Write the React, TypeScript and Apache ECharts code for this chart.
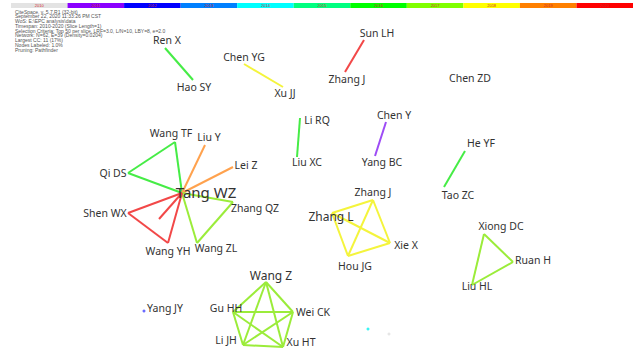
import React, { useEffect, useRef } from "react";
import * as echarts from "echarts";

// ---- timeline ----
const years = ["2010", "2011", "2012", "2013", "2014", "2015", "2016", "2017", "2018", "2019", "2020"];
const yearColors = ["#e3e3e3", "#8a00ff", "#0000ff", "#0080ff", "#00ffff", "#00ff80", "#00ff00", "#80ff00", "#ffff00", "#ff8000", "#ff0000"];

// ---- header text ----
const infoLines = [
  "CiteSpace, v. 5.7.R1 (32-bit)",
  "September 22, 2020 11:33:26 PM CST",
  "WoS: E:\\EPC analysis\\data",
  "Timespan: 2010-2020 (Slice Length=1)",
  "Selection Criteria: Top 50 per slice, LRF=3.0, L/N=10, LBY=8, e=2.0",
  "Network: N=62, E=39 (Density=0.0204)",
  "Largest CC: 11 (17%)",
  "Nodes Labeled: 1.0%",
  "Pruning: Pathfinder",
];

// ---- network nodes (layout coordinates) ----
const nodeNames = [
  "Tang WZ", "Wang TF", "Qi DS", "Liu Y", "Lei Z", "Zhang QZ", "Wang ZL", "Wang YH", "Shen WX", "",
  "Zhang L", "Zhang J", "Xie X", "Hou JG",
  "Wang Z", "Gu HH", "Wei CK", "Li JH", "Xu HT",
  "Yang JY", "",
  "Ren X", "Hao SY", "Chen YG", "Xu JJ", "Sun LH", "Zhang J", "Chen ZD",
  "Li RQ", "Liu XC", "Chen Y", "Yang BC", "He YF", "Tao ZC",
  "Xiong DC", "Ruan H", "Liu HL", "",
];
const nodeX = [182, 175, 128, 205, 233, 233, 197, 168, 128, 159, 332, 373, 390, 348, 266, 233, 293, 243, 283, 144, 368, 165, 193, 244, 283, 364, 345, 470, 300, 297, 386, 375, 465, 444, 484, 513, 472, 389];
const nodeY = [193, 142, 173, 145, 167, 202, 243, 243, 213, 219, 213, 200, 243, 256, 282, 312, 312, 345, 347, 311, 329, 48, 80, 64, 87, 40, 72, 78, 118, 157, 122, 156, 151, 187, 234, 262, 285, 334];

// ---- network links ----
const linkSource = [0, 1, 2, 0, 0, 0, 5, 6, 0, 8, 7, 0, 10, 11, 12, 13, 10, 11, 14, 14, 14, 14, 15, 15, 15, 16, 16, 17, 21, 23, 25, 28, 30, 32, 34, 35, 36];
const linkTarget = [1, 2, 0, 3, 4, 5, 6, 0, 8, 7, 0, 9, 11, 12, 13, 10, 12, 13, 15, 16, 17, 18, 16, 17, 18, 17, 18, 18, 22, 24, 26, 29, 31, 33, 35, 36, 34];
const linkYear = ["2016", "2016", "2016", "2019", "2019", "2017", "2017", "2017", "2020", "2020", "2020", "2020", "2018", "2018", "2018", "2018", "2018", "2018", "2017", "2017", "2017", "2017", "2017", "2017", "2017", "2017", "2017", "2017", "2016", "2018", "2020", "2016", "2011", "2016", "2017", "2017", "2017"];

// ---- styles ----
const edgeColor: Record<string, string> = {
  "2011": "#9d4cf5",
  "2016": "#46ec46",
  "2017": "#9bec3a",
  "2018": "#f4f43c",
  "2019": "#ffa24e",
  "2020": "#f24848",
};
const dotStyle: Record<number, { size: number; color: string }> = {
  19: { size: 3, color: "#6b6bff" },
  20: { size: 3, color: "#3cf4f4" },
  37: { size: 3, color: "#e6e6e6" },
};
const labelOffsets: number[][] = [
  [24, -1], [-4, -9], [-15, 0], [4, -8], [13, -2], [22, 6], [19, 5], [0, 8], [-23, 0], [0, 0],
  [-1, 3], [0, -8], [16, 2], [7, 10],
  [5, -7], [-7, -4], [20, 0], [-17, -5], [18, -5],
  [21, -3], [0, 0],
  [2, -8], [1, 7], [0, -7], [2, 6], [13, -7], [2, 7], [0, 0],
  [17, 2], [10, 5], [8, -7], [7, 6], [16, -8], [14, 8],
  [17, -8], [20, -2], [5, 1], [0, 0],
];
const labelSize: Record<number, number> = { 0: 15, 10: 12, 14: 12 };

export default function App() {
  const ref = useRef<HTMLDivElement>(null);
  useEffect(() => {
    document.body.style.margin = "0";
    if (!ref.current) return;
    const chart = echarts.init(ref.current, null, { renderer: "svg" });

    const nodes = nodeNames.map((name, i) => ({
      id: String(i),
      name,
      value: [nodeX[i], nodeY[i]],
      symbolSize: dotStyle[i] ? dotStyle[i].size : 0,
      itemStyle: { color: dotStyle[i] ? dotStyle[i].color : "#000" },
      label: {
        show: name !== "",
        offset: labelOffsets[i],
        fontSize: labelSize[i] || 10.5,
      },
    }));
    const links = linkSource.map((s, i) => ({
      source: s,
      target: linkTarget[i],
      lineStyle: { color: edgeColor[linkYear[i]] },
    }));

    chart.setOption({
      animation: false,
      backgroundColor: "#ffffff",
      grid: [
        { left: 0, right: 0, top: 0, bottom: 0 },
        { left: 11, top: 3, height: 5, width: 629 },
      ],
      xAxis: [
        { type: "value", min: 0, max: 633, show: false, gridIndex: 0 },
        { type: "category", data: years, show: false, gridIndex: 1 },
      ],
      yAxis: [
        { type: "value", min: 0, max: 350, inverse: true, show: false, gridIndex: 0 },
        { type: "value", min: 0, max: 1, show: false, gridIndex: 1 },
      ],
      graphic: [
        {
          type: "text",
          left: 15,
          top: 9,
          style: {
            text: infoLines.join("\n"),
            fontSize: 5,
            lineHeight: 4.8,
            fill: "#555",
            fontFamily: "Liberation Sans",
          },
        },
      ],
      series: [
        {
          type: "bar",
          xAxisIndex: 1,
          yAxisIndex: 1,
          barCategoryGap: "0%",
          data: years.map((y, i) => ({ value: 1, itemStyle: { color: yearColors[i] } })),
          label: {
            show: true,
            position: "inside",
            formatter: (p: any) => p.name,
            fontSize: 4,
            color: "#d02a2a",
            fontFamily: "Liberation Sans",
          },
          silent: true,
        },
        {
          type: "graph",
          coordinateSystem: "cartesian2d",
          xAxisIndex: 0,
          yAxisIndex: 0,
          symbol: "circle",
          data: nodes,
          links,
          lineStyle: { width: 2, opacity: 1, curveness: 0 },
          label: {
            show: true,
            position: "inside",
            color: "#333",
            fontFamily: "Noto Sans",
          },
          silent: true,
        },
      ],
    });
    return () => chart.dispose();
  }, []);
  return <div ref={ref} style={{ width: 633, height: 350 }} />;
}
